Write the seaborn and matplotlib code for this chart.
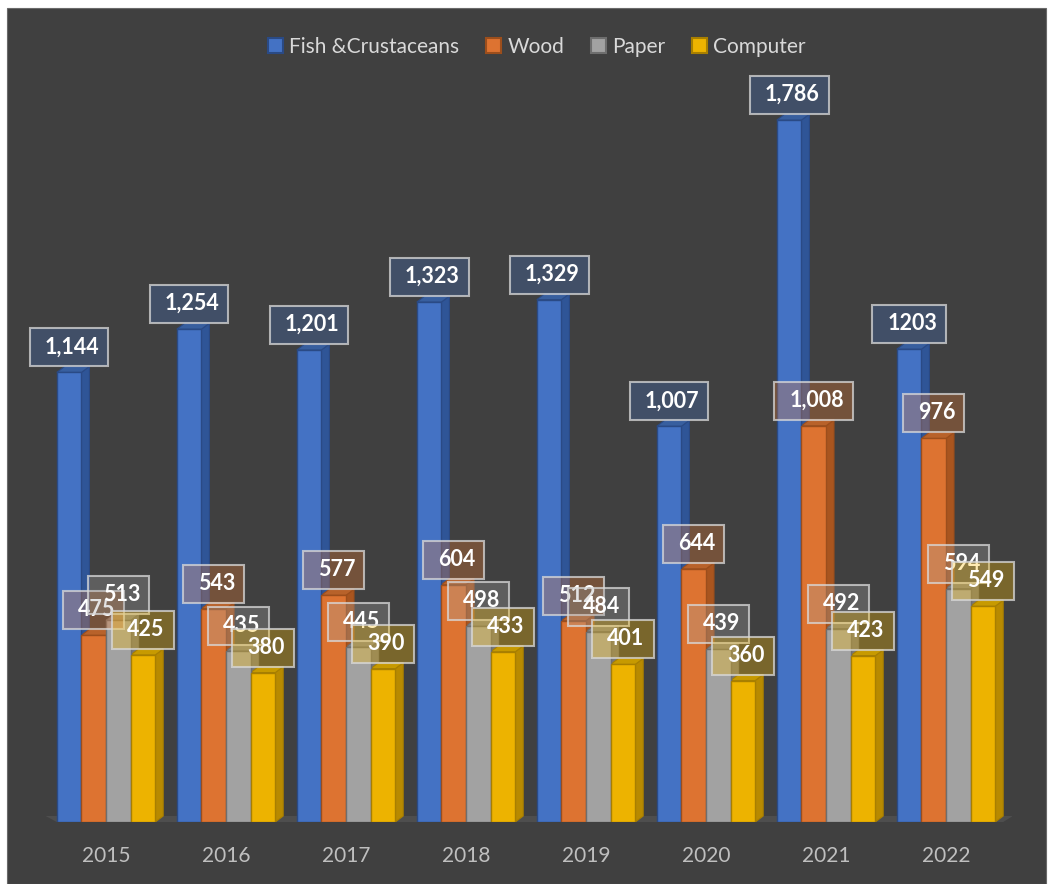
import numpy as np
import pandas as pd
import seaborn as sns
import matplotlib
matplotlib.use("Agg")
import matplotlib.pyplot as plt
from matplotlib.patches import Rectangle, Polygon
import matplotlib.transforms as mtransforms

# ---------------- data ----------------
years = ["2015", "2016", "2017", "2018", "2019", "2020", "2021", "2022"]
categories = ["Fish &Crustaceans", "Wood", "Paper", "Computer"]
fish = [1144, 1254, 1201, 1323, 1329, 1007, 1786, 1203]
wood = [475, 543, 577, 604, 512, 644, 1008, 976]
paper = [513, 435, 445, 498, 484, 439, 492, 594]
computer = [425, 380, 390, 433, 401, 360, 423, 549]
fish_labels = ["1,144", "1,254", "1,201", "1,323", "1,329", "1,007", "1,786", "1203"]

# ---------------- styles ----------------
front_colors = ["#4472c4", "#dd7331", "#a2a2a2", "#edb300"]
side_colors = ["#2f5597", "#a9551f", "#767676", "#b88a00"]
top_colors = ["#385f9f", "#b8622a", "#858585", "#c79a00"]
edge_colors = ["#2a4a85", "#9c4e1c", "#6e6e6e", "#a87f00"]
box_colors = ["#4472c4", "#ed7d31", "#a5a5a5", "#ffc000"]
panel_color = "#404040"

sns.set_theme(style="white")
plt.rcParams["font.family"] = ["Lato", "DejaVu Sans"]

W, H, DPI = 1048, 884, 100
fig = plt.figure(figsize=(W / DPI, H / DPI), dpi=DPI, facecolor="white")

# dark chart panel
panel = Rectangle((7 / W, 0), (1046 - 7) / W, (H - 8) / H,
                  transform=fig.transFigure, facecolor=panel_color,
                  edgecolor="#6a6a6a", linewidth=0.8, zorder=-10)
fig.patches.append(panel)

ax_left, ax_right, ax_bottom, ax_top = 40, 1012, 822, 36
ax = fig.add_axes([ax_left / W, (H - ax_bottom) / H,
                   (ax_right - ax_left) / W, (ax_bottom - ax_top) / H])
ax.set_facecolor("none")
ax.set_zorder(1)

df = pd.DataFrame({
    "Year": np.tile(years, len(categories)),
    "Category": np.repeat(categories, len(years)),
    "Value": np.concatenate([fish, wood, paper, computer]),
})

sns.barplot(data=df, x="Year", y="Value", hue="Category", hue_order=categories,
            order=years, palette=front_colors, saturation=1, width=0.82,
            ax=ax, legend=False, linewidth=1, errorbar=None, zorder=3)

xlim = (-0.55, len(years) - 0.45)
ylim = (0, 2000)
ax.set_xlim(*xlim)
ax.set_ylim(*ylim)

px_per_x = (ax_right - ax_left) / (xlim[1] - xlim[0])
px_per_y = (ax_bottom - ax_top) / (ylim[1] - ylim[0])
dx = 8 / px_per_x
dy = 6 / px_per_y

# floor
all_bars = [p for c in ax.containers for p in c]
xmin = min(p.get_x() for p in all_bars)
xmax = max(p.get_x() + p.get_width() for p in all_bars)
floor = Polygon([(xmin, 0), (xmax + dx, 0), (xmax + dx * 2.2, dy),
                 (xmin - dx * 1.4, dy)], closed=True,
                facecolor="#4e4e4e", edgecolor="none", zorder=1)
ax.add_patch(floor)

# 3D faces
for i, cont in enumerate(ax.containers):
    for p in cont:
        p.set_edgecolor(edge_colors[i])
        p.set_linewidth(1.0)
        p.set_zorder(3)
        x0, w, h = p.get_x(), p.get_width(), p.get_height()
        side = Polygon([(x0 + w, 0), (x0 + w + dx, dy), (x0 + w + dx, h + dy),
                        (x0 + w, h)], closed=True, facecolor=side_colors[i],
                       edgecolor=edge_colors[i], linewidth=0.8, zorder=2 + i * 0.01)
        top = Polygon([(x0, h), (x0 + dx, h + dy), (x0 + w + dx, h + dy),
                       (x0 + w, h)], closed=True, facecolor=top_colors[i],
                      edgecolor=edge_colors[i], linewidth=0.8, zorder=2 + i * 0.01)
        ax.add_patch(side)
        ax.add_patch(top)

# data labels
series_labels = [fish_labels] + [[f"{v:,}" for v in s] for s in (wood, paper, computer)]
fig.canvas.draw()
renderer = fig.canvas.get_renderer()
for i, cont in enumerate(ax.containers):
    for j, p in enumerate(cont):
        cx = p.get_x() + p.get_width() / 2
        h = p.get_height()
        anchor = mtransforms.ScaledTranslation(cx, h, ax.transData)
        pix = mtransforms.Affine2D() + anchor
        t = ax.text(3, 6 + 19.5, series_labels[i][j], transform=pix,
                    ha="center", va="center", color="white", fontsize=15.5,
                    fontweight="bold", zorder=20 + i * 2 + 1, clip_on=False)
        tw = t.get_window_extent(renderer).width
        bw, bh = tw + 24, 38
        box = Rectangle((-bw / 2, 6), bw, bh, transform=pix,
                        facecolor=matplotlib.colors.to_rgba(box_colors[i], 0.3),
                        edgecolor=(0.85, 0.85, 0.85, 0.75), linewidth=1.5,
                        zorder=20 + i * 2, clip_on=False)
        ax.add_patch(box)

# axes styling
for s in ax.spines.values():
    s.set_visible(False)
ax.set_yticks([])
ax.set_xlabel("")
ax.set_ylabel("")
ax.tick_params(axis="x", length=0, pad=17, labelsize=15, labelcolor="#bfbfbf")

# legend
handles = [Rectangle((0, 0), 1, 1, facecolor=front_colors[i],
                     edgecolor=edge_colors[i], linewidth=1.5)
           for i in range(len(categories))]
fig.legend(handles, categories, loc="center", bbox_to_anchor=(537 / W, 1 - 47 / H),
           ncol=4, frameon=False, fontsize=15, labelcolor="#d9d9d9",
           handlelength=0.7, handleheight=0.7, handletextpad=0.3, columnspacing=1.3)

fig.savefig("out.png", dpi=DPI, facecolor="white")
